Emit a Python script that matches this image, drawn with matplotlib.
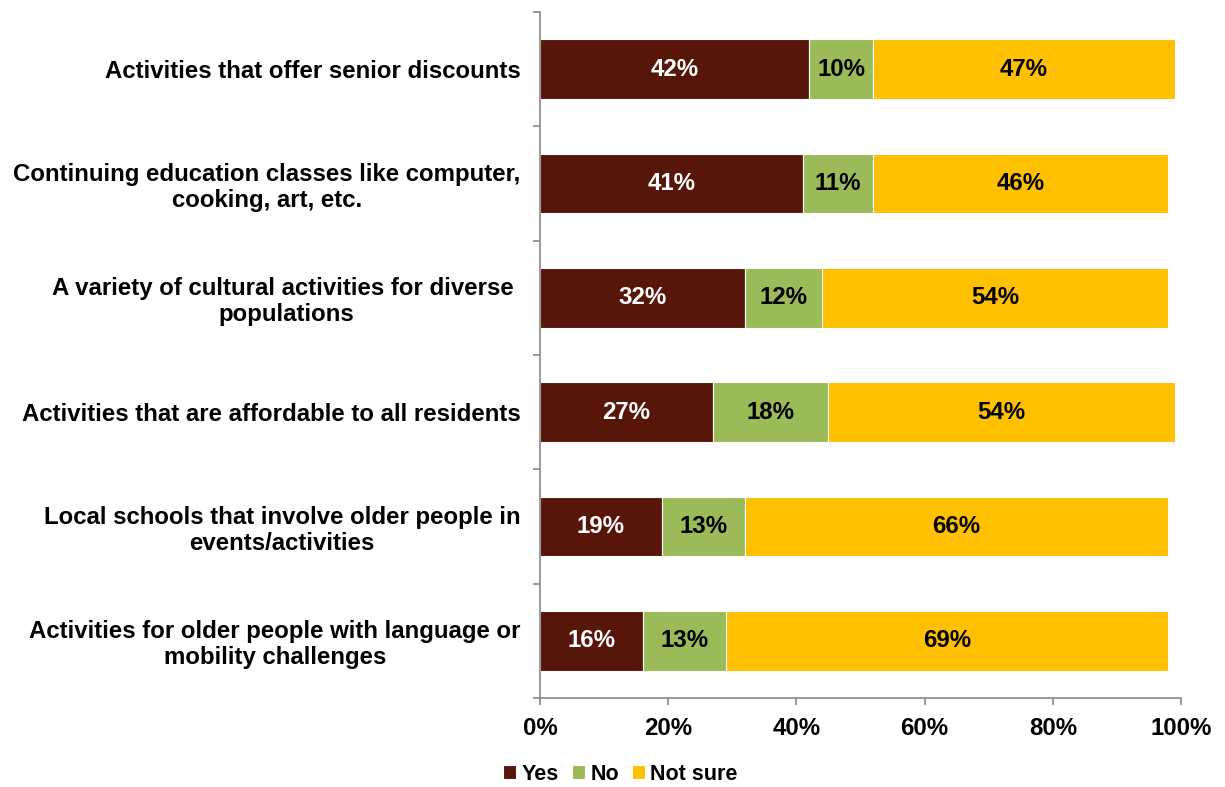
import matplotlib
matplotlib.use("Agg")
import matplotlib.pyplot as plt
import numpy as np
from matplotlib.ticker import FixedLocator, PercentFormatter

plt.rcParams['font.family'] = ['Liberation Sans', 'DejaVu Sans']

categories = [
    "Activities that offer senior discounts",
    "Continuing education classes like computer,\ncooking, art, etc.",
    "A variety of cultural activities for diverse \npopulations",
    "Activities that are affordable to all residents",
    "Local schools that involve older people in\nevents/activities",
    "Activities for older people with language or\nmobility challenges",
]
yes = [42, 41, 32, 27, 19, 16]
no = [10, 11, 12, 18, 13, 13]
not_sure = [47, 46, 54, 54, 66, 69]
series_names = ["Yes", "No", "Not sure"]
colors = ["#58150A", "#9BBB59", "#FFC000"]
label_colors = ["white", "black", "black"]

FS = 17.3

fig = plt.figure(figsize=(12.25, 7.87), dpi=100)
ax = fig.add_axes([0.4408, 0.1131, 0.5233, 0.8717])

n = len(categories)
y = np.arange(n)[::-1]
left = np.zeros(n)
for vals, name, col, lc in zip([yes, no, not_sure], series_names, colors, label_colors):
    vals = np.array(vals, dtype=float)
    ax.barh(y, vals, left=left, height=0.52, color=col, edgecolor="white",
            linewidth=0.8, label=name)
    for yi, l, v in zip(y, left, vals):
        ax.text(l + v / 2, yi, f"{int(v)}%", ha="center", va="center",
                color=lc, fontsize=FS, fontweight="bold")
    left += vals

ax.set_xlim(0, 100)
ax.set_ylim(-0.5, n - 0.5)
ax.set_xticks([0, 20, 40, 60, 80, 100])
ax.xaxis.set_major_formatter(PercentFormatter(decimals=0))
ax.set_yticks(y)
ax.set_yticklabels(categories, fontsize=FS, fontweight="bold", linespacing=1.15,
                   multialignment="center")
ax.yaxis.set_minor_locator(FixedLocator(np.arange(-0.5, n, 1.0)))
ax.tick_params(axis="y", which="major", length=0, pad=14)
ax.tick_params(axis="y", which="minor", length=5, color="#888888", width=1.2)
ax.tick_params(axis="x", which="major", length=5, color="#888888", width=1.2,
               labelsize=FS, pad=9)
for lab in ax.get_xticklabels():
    lab.set_fontweight("bold")

for s in ["top", "right"]:
    ax.spines[s].set_visible(False)
for s in ["left", "bottom"]:
    ax.spines[s].set_color("#888888")
    ax.spines[s].set_linewidth(1.2)

leg = fig.legend(loc="center", bbox_to_anchor=(0.5065, 0.016), ncol=3, frameon=False,
                 prop={"size": 15.5, "weight": "bold"}, handlelength=0.6,
                 handleheight=0.6, handletextpad=0.25, columnspacing=0.6)

fig.savefig("out.png", dpi=100)
